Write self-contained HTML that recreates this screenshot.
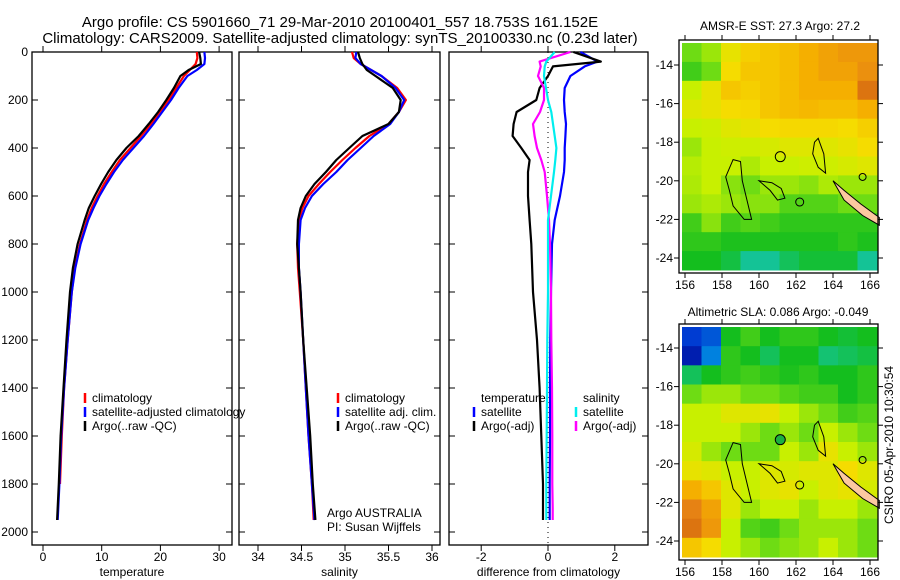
<!DOCTYPE html>
<html><head><meta charset="utf-8"><style>
html,body{margin:0;padding:0;background:#fff;}
svg{display:block;font-family:"Liberation Sans",sans-serif;}
text{fill:#000;}
</style></head><body>
<svg id="chart" width="900" height="580" viewBox="0 0 900 580" xmlns="http://www.w3.org/2000/svg">
<text x="340" y="27" font-size="15" text-anchor="middle">Argo profile: CS 5901660_71 29-Mar-2010 20100401_557 18.753S 161.152E</text>
<text x="340" y="43" font-size="15" text-anchor="middle">Climatology: CARS2009. Satellite-adjusted climatology: synTS_20100330.nc (0.23d later)</text>
<g id="p1"></g>
<g id="p2"></g>
<g id="p3"></g>
<g id="m1"></g>
<g id="m2"></g>
<text x="780" y="30" font-size="12" text-anchor="middle">AMSR-E SST: 27.3 Argo: 27.2</text>
<text x="778" y="316" font-size="12" text-anchor="middle">Altimetric SLA: 0.086 Argo: -0.049</text>
<text transform="translate(893,445) rotate(-90)" font-size="12" text-anchor="middle">CSIRO 05-Apr-2010 10:30:54</text>
</svg>
<script>
// ---- profile data ----
const depths = [0,25,50,75,100,150,200,250,300,350,400,450,500,550,600,650,700,800,900,1000,1200,1400,1600,1800,1950];
const argoT = [26.6,26.8,26.9,24.8,23.4,22.3,21,19.6,18,16.3,14.2,12.5,11.1,9.9,8.8,7.8,7.1,5.9,5.1,4.6,4.0,3.5,3.0,2.7,2.4];
const climT = [26.2,26.3,26.0,25.0,24.0,22.7,21.4,19.9,18.4,16.7,14.9,13.1,11.7,10.4,9.3,8.3,7.5,6.3,5.4,4.9,4.2,3.6,3.2,2.9,2.6];
const satT = [27.5,27.6,27.5,26.2,24.6,23.1,21.8,20.3,18.8,17.2,15.4,13.6,12.1,10.8,9.6,8.6,7.7,6.4,5.5,4.9,4.2,3.6,3.1,2.8,2.5];
const argoS = [35.15,35.17,35.2,35.25,35.35,35.55,35.64,35.62,35.5,35.2,35.05,34.9,34.78,34.65,34.55,34.49,34.46,34.45,34.47,34.49,34.52,34.56,34.6,34.63,34.66];
const climS = [35.08,35.1,35.18,35.3,35.42,35.6,35.7,35.62,35.5,35.28,35.12,34.97,34.83,34.7,34.58,34.51,34.47,34.45,34.46,34.48,34.52,34.55,34.58,34.62,34.64];
const satS = [35.13,35.12,35.18,35.3,35.42,35.58,35.68,35.62,35.52,35.33,35.18,35.03,34.9,34.75,34.62,34.54,34.49,34.47,34.47,34.49,34.52,34.55,34.58,34.62,34.65];
const diffDepths = [0,40,60,100,150,200,250,300,350,400,450,500,600,700,800,1000,1200,1400,1600,1800,1900,1950];
const diffT = [0.76,1.58,0.15,0.0,-0.25,-0.35,-0.94,-1.03,-1.06,-0.8,-0.55,-0.6,-0.6,-0.55,-0.5,-0.45,-0.33,-0.25,-0.2,-0.15,-0.15,-0.15];
const satDiffT = [0.97,1.48,1.1,0.67,0.5,0.48,0.5,0.54,0.52,0.5,0.5,0.48,0.36,0.2,0.12,0.09,0.07,0.06,0.06,0.05,0.05,0.05];
const diffS = [0.67,-0.25,-0.22,-0.3,-0.12,-0.12,-0.24,-0.45,-0.4,-0.33,-0.2,-0.1,-0.03,0.03,0.06,0.09,0.1,0.12,0.13,0.13,0.14,0.14];
const satDiffS = [0.2,-0.05,-0.1,-0.12,-0.06,0,0.1,0.15,0.2,0.25,0.22,0.18,0.09,0.0,0.0,0.0,-0.02,-0.03,-0.04,-0.05,-0.05,-0.05];
const depthTicks = [0,200,400,600,800,1000,1200,1400,1600,1800,2000];
const tempTicks = [0,10,20,30];
const salTicks = [34,34.5,35,35.5,36];
const diffTicks = [-2,0,2];
// ---- map data (values 0..1 on colour scale) ----
const sstGrid = [
[.45,.5,.62,.68,.7,.72,.75,.78,.8,.8],
[.4,.45,.65,.7,.7,.72,.75,.78,.78,.82],
[.55,.62,.7,.68,.7,.72,.75,.75,.75,.88],
[.6,.62,.65,.66,.7,.72,.73,.72,.72,.75],
[.55,.56,.6,.62,.65,.66,.66,.66,.65,.68],
[.5,.55,.56,.56,.58,.6,.6,.6,.62,.65],
[.53,.55,.55,.52,.55,.55,.56,.56,.58,.6],
[.52,.55,.48,.45,.5,.5,.48,.52,.5,.5],
[.5,.52,.5,.48,.48,.42,.42,.42,.45,.45],
[.4,.48,.4,.42,.4,.38,.38,.38,.38,.38],
[.38,.38,.36,.36,.36,.36,.36,.36,.38,.36],
[.35,.35,.32,.25,.25,.3,.33,.33,.33,.25]];
const slaGrid = [
[.1,.12,.35,.4,.35,.38,.38,.35,.33,.35],
[.05,.15,.38,.35,.3,.35,.35,.28,.3,.32],
[.3,.35,.38,.4,.38,.36,.38,.35,.35,.38],
[.45,.5,.5,.45,.45,.42,.4,.4,.35,.38],
[.55,.55,.6,.6,.62,.55,.5,.45,.4,.42],
[.55,.55,.55,.5,.45,.5,.45,.55,.5,.45],
[.58,.5,.45,.45,.45,.55,.5,.62,.55,.5],
[.62,.6,.55,.55,.6,.58,.6,.6,.65,.6],
[.75,.7,.6,.55,.6,.62,.55,.6,.62,.58],
[.85,.78,.6,.5,.55,.55,.5,.55,.55,.5],
[.88,.8,.55,.42,.4,.45,.5,.5,.5,.45],
[.7,.65,.55,.5,.45,.48,.5,.55,.5,.45]];
const lonTicks = [156,158,160,162,164,166];
const latTicks = [-14,-16,-18,-20,-22,-24];

const NS = "http://www.w3.org/2000/svg";
function mk(tag, attrs, parent){const e=document.createElementNS(NS,tag);for(const k in attrs)e.setAttribute(k,attrs[k]);parent.appendChild(e);return e;}
const yD = d => 52 + d*0.24;
const xT = t => 43 + t*5.87;
const xS = s => 258 + (s-34)*87;
const xDf = v => 548 + v*33.4;

function frame(g,x0,x1,xticks,xf,xfmt,xlabel,name,leftLabels){
  const r=mk('rect',{x:x0,y:52,width:x1-x0,height:493,fill:'none',stroke:'#000','stroke-width':1.3},g);
  
  
  depthTicks.forEach(d=>{
    const y=yD(d);
    mk('line',{x1:x0,y1:y,x2:x0+6,y2:y,stroke:'#000'},g);
    mk('line',{x1:x1,y1:y,x2:x1-6,y2:y,stroke:'#000'},g);
    if(leftLabels){const t=mk('text',{x:x0-4,y:y+4,'font-size':12,'text-anchor':'end'},g);t.textContent=d;
      
      }
  });
  xticks.forEach(v=>{
    const x=xf(v);
    mk('line',{x1:x,y1:545,x2:x,y2:551,stroke:'#000'},g);
    mk('line',{x1:x,y1:52,x2:x,y2:46,stroke:'#000'},g);
    const t=mk('text',{x:x,y:561,'font-size':12,'text-anchor':'middle'},g);t.textContent=xfmt(v);
    
    
  });
  const l=mk('text',{x:(x0+x1)/2,y:576,'font-size':12,'text-anchor':'middle'},g);l.textContent=xlabel;
  
  
}
function line(g,xs,ds,xf,color,name,maxD){
  let pts=[];xs.forEach((v,i)=>{if(maxD===undefined||ds[i]<=maxD)pts.push(xf(v).toFixed(1)+','+yD(ds[i]).toFixed(1));});
  const p=mk('polyline',{points:pts.join(' '),fill:'none',stroke:color,'stroke-width':2.2,'stroke-linejoin':'round'},g);
  
  
}
function legend(g,x,y,color,label,name){
  mk('line',{x1:x,y1:y-9,x2:x,y2:y+1,stroke:color,'stroke-width':2.5},g);
  const t=mk('text',{x:x+7,y:y,'font-size':12},g);t.textContent=label;
  
  
}
// Panel 1
const p1=document.getElementById('p1');
frame(p1,32,232,tempTicks,xT,v=>v,'temperature','temperature',true);
line(p1,climT,depths,xT,'#f00','climatology-temperature-line',1800);
line(p1,satT,depths,xT,'#00f','satellite-temperature-line');
line(p1,argoT,depths,xT,'#000','argo-temperature-line');
legend(p1,85,402,'#f00','climatology','legend-climatology');
legend(p1,85,416,'#00f','satellite-adjusted climatology','legend-satellite');
legend(p1,85,430,'#000','Argo(..raw -QC)','legend-argo');
// Panel 2
const p2=document.getElementById('p2');
frame(p2,239,440,salTicks,xS,v=>v,'salinity','salinity',false);
line(p2,climS,depths,xS,'#f00','climatology-salinity-line');
line(p2,satS,depths,xS,'#00f','satellite-salinity-line');
line(p2,argoS,depths,xS,'#000','argo-salinity-line');
legend(p2,338,402,'#f00','climatology','legend-climatology-sal');
legend(p2,338,416,'#00f','satellite adj. clim.','legend-satellite-sal');
legend(p2,338,430,'#000','Argo(..raw -QC)','legend-argo-sal');
{const t=mk('text',{x:327,y:517,'font-size':12},p2);t.textContent='Argo AUSTRALIA';


const t2=mk('text',{x:327,y:531,'font-size':12},p2);t2.textContent='PI: Susan Wijffels';

}
// Panel 3
const p3=document.getElementById('p3');
frame(p3,449,648,diffTicks,xDf,v=>v,'difference from climatology','difference',false);
mk('line',{x1:xDf(0),y1:52,x2:xDf(0),y2:545,stroke:'#000','stroke-dasharray':'1,4'},p3);
line(p3,satDiffT,diffDepths,xDf,'#00f','satellite-temp-diff-line');
line(p3,diffT,diffDepths,xDf,'#000','argo-temp-diff-line');
line(p3,diffS,diffDepths,xDf,'#f0f','argo-sal-diff-line');
line(p3,satDiffS,diffDepths,xDf,'#0ee','satellite-sal-diff-line');
{const t=mk('text',{x:481,y:402,'font-size':12},p3);t.textContent='temperature';


const t2=mk('text',{x:583,y:402,'font-size':12},p3);t2.textContent='salinity';

}
legend(p3,474,416,'#00f','satellite','legend-sat-temp');
legend(p3,474,430,'#000','Argo(-adj)','legend-argo-temp');
legend(p3,576,416,'#0ee','satellite','legend-sat-sal');
legend(p3,576,430,'#f0f','Argo(-adj)','legend-argo-sal');

// ---- maps ----
const stops=[[0,[0,0,140]],[0.1,[0,60,210]],[0.18,[0,170,230]],[0.25,[20,195,150]],[0.35,[20,190,30]],[0.45,[110,220,20]],[0.55,[200,240,0]],[0.65,[245,220,0]],[0.75,[245,175,0]],[0.85,[230,130,20]],[1,[180,60,0]]];
function cmap(v){for(let i=1;i<stops.length;i++){if(v<=stops[i][0]){const a=stops[i-1],b=stops[i],f=(v-a[0])/(b[0]-a[0]);
  return 'rgb('+a[1].map((c,k)=>Math.round(c+(b[1][k]-c)*f)).join(',')+')';}}return 'rgb(180,60,0)';}
function drawMap(g,grid,top,bottom,name,lat14y){
  const x0=679,x1=878,ix0=682,ix1=877,iy0=top+3,iy1=bottom-3;
  const nr=grid.length,nc=grid[0].length,cw=(ix1-ix0)/nc,ch=(iy1-iy0)/nr;
  grid.forEach((row,r)=>row.forEach((v,c)=>{
    const cell=mk('rect',{x:(ix0+c*cw).toFixed(2),y:(iy0+r*ch).toFixed(2),width:(cw+0.5).toFixed(2),height:(ch+0.5).toFixed(2),fill:cmap(v)},g);
    
    
  }));
  const lonX=l=>685+(l-156)*18.5, latY=l=>lat14y+(-14-l)*19.3;
  const px=(lo,la)=>lonX(lo).toFixed(1)+','+latY(la).toFixed(1);
  const co={fill:'none',stroke:'#000','stroke-width':1};
  mk('path',Object.assign({d:'M'+px(158.6,-18.9)+' L'+px(159.0,-19.0)+' L'+px(159.1,-20.0)+' L'+px(159.4,-21.2)+' L'+px(159.6,-22.0)+' L'+px(159.2,-22.0)+' L'+px(158.6,-21.3)+' L'+px(158.4,-20.5)+' L'+px(158.2,-19.8)+' Z'},co),g);
  mk('path',Object.assign({d:'M'+px(160.0,-20.0)+' L'+px(160.7,-20.1)+' L'+px(161.2,-20.4)+' L'+px(161.4,-20.9)+' L'+px(161.0,-21.0)+' L'+px(160.6,-20.5)+' Z'},co),g);
  mk('path',Object.assign({d:'M'+px(163.0,-18.0)+' L'+px(163.2,-17.8)+' L'+px(163.5,-18.6)+' L'+px(163.6,-19.6)+' L'+px(163.2,-19.3)+' L'+px(162.9,-18.6)+' Z'},co),g);
  mk('circle',{cx:lonX(162.2),cy:latY(-21.1),r:4,fill:'none',stroke:'#000'},g);
  mk('circle',{cx:lonX(165.6),cy:latY(-19.8),r:3.5,fill:'none',stroke:'#000'},g);
  const nc2=mk('path',{d:'M'+px(164.0,-20.0)+' L'+px(164.6,-20.5)+' L'+px(165.5,-21.2)+' L'+px(166.5,-21.9)+' L'+px(166.5,-22.3)+' L'+px(165.6,-21.8)+' L'+px(164.6,-21.0)+' Z',fill:'#fcc8a0',stroke:'#000','stroke-width':1},g);
  
  
  const pos=mk('circle',{cx:lonX(161.15),cy:latY(-18.75),r:5,fill:name==='sla-map'?'#1cb040':'none',stroke:'#000'},g);
  
  
  mk('rect',{x:x0,y:top,width:x1-x0,height:bottom-top,fill:'none',stroke:'#000','stroke-width':1.3},g);
  lonTicks.forEach(l=>{const x=lonX(l);
    mk('line',{x1:x,y1:bottom,x2:x,y2:bottom+5,stroke:'#000'},g);
    mk('line',{x1:x,y1:top,x2:x,y2:top-5,stroke:'#000'},g);
    const t=mk('text',{x:x,y:bottom+16,'font-size':12,'text-anchor':'middle'},g);t.textContent=l;
    
    });
  latTicks.forEach(l=>{const y=latY(l);
    mk('line',{x1:x0,y1:y,x2:x0-5,y2:y,stroke:'#000'},g);
    mk('line',{x1:x1,y1:y,x2:x1+5,y2:y,stroke:'#000'},g);
    const t=mk('text',{x:x0-6,y:y+4,'font-size':12,'text-anchor':'end'},g);t.textContent=l;
    
    });
}
drawMap(document.getElementById('m1'),sstGrid,40,273,'sst-map',65);
drawMap(document.getElementById('m2'),slaGrid,324,560,'sla-map',348);
</script>
</body></html>
